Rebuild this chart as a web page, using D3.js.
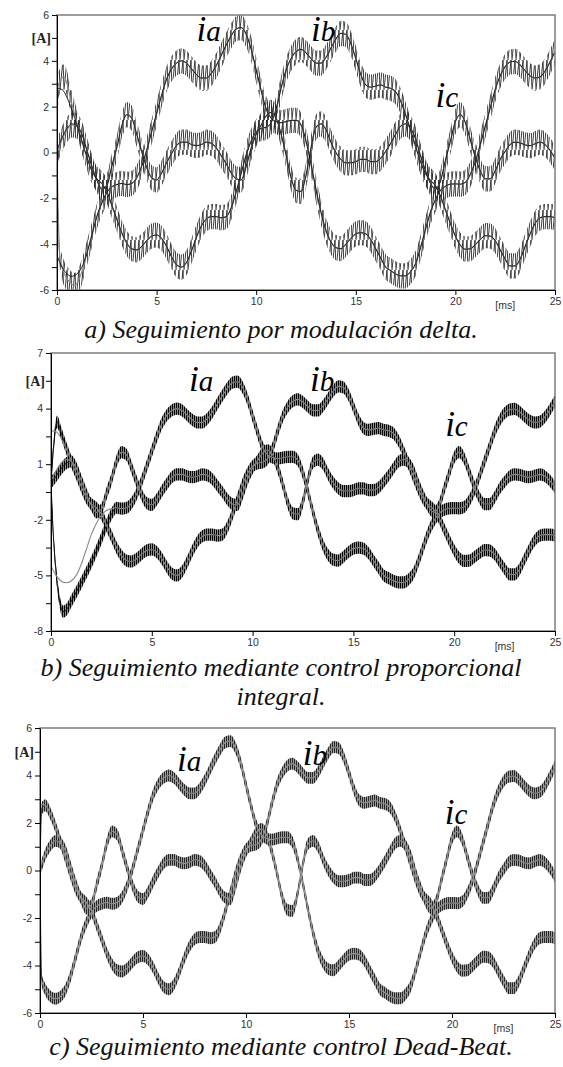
<!DOCTYPE html>
<html>
<head>
<meta charset="utf-8">
<script src="https://cdn.jsdelivr.net/npm/d3@7"></script>
<style>
  html, body { margin: 0; padding: 0; background: #fff; }
  svg { display: block; }
</style>
</head>
<body>
<svg id="chart" width="563" height="1067"></svg>
<script>
// ---- sampling grid (ms) ----
const T_STEP = 0.25;
const T_END = 25;
const timeMs = d3.range(0, T_END + T_STEP / 2, T_STEP);   // 0, 0.25 ... 25

// ---- reference phase currents [A], one value per sample instant ----
const refIa = [
  -4.5, -5.0, -5.3, -5.4, -5.3, -5.0, -4.4, -3.6, -2.8, -2.2, -1.75, -1.5, -1.4, -1.35, -1.4, -1.35,
  -1.1, -0.6, 0.1, 0.9, 1.7, 2.5, 3.2, 3.65, 3.9, 4.0, 3.9, 3.65, 3.4, 3.25, 3.25, 3.45,
  3.8, 4.25, 4.7, 5.1, 5.4, 5.45, 5.15, 4.5, 3.6, 2.7, 1.9, 1.5, 1.35, 1.3, 1.35, 1.4,
  1.4, 1.2, 0.5, -0.5, -1.6, -2.6, -3.4, -3.9, -4.15, -4.2, -4.0, -3.75, -3.55, -3.5, -3.55, -3.8,
  -4.2, -4.6, -5.0,
  -5.15, -5.3, -5.38, -5.38, -5.2, -4.85, -4.15, -3.35, -2.6, -2.05, -1.65, -1.47, -1.38, -1.37, -1.38, -1.3,
  -0.95, -0.4, 0.35, 1.15, 1.95, 2.75, 3.35, 3.75, 3.95, 3.98, 3.82, 3.57, 3.35, 3.25, 3.3, 3.55,
  3.95, 4.4
];
const refIb = [
  2.8, 2.75, 2.4, 1.85, 1.2, 0.5, -0.2, -0.8, -1.15, -1.35, -1.7, -2.3, -2.9, -3.5, -3.95, -4.2,
  -4.25, -4.1, -3.85, -3.65, -3.6, -3.75, -4.1, -4.55, -4.9, -5.0, -4.8, -4.3, -3.7, -3.2, -2.9, -2.8,
  -2.8, -2.85, -2.8, -2.4, -1.7, -0.9, -0.1, 0.5, 0.9, 1.05, 1.1, 1.3, 1.9, 2.8, 3.6, 4.1,
  4.4, 4.5, 4.35, 4.1, 3.9, 3.9, 4.15, 4.55, 4.95, 5.2, 5.15, 4.75, 4.1, 3.4, 2.95, 2.85,
  2.9, 2.95, 2.85,
  2.8, 2.65, 2.25, 1.65, 0.98, 0.27, -0.4, -0.92, -1.22, -1.45, -1.9, -2.5, -3.1, -3.65, -4.05, -4.22,
  -4.2, -4.02, -3.8, -3.63, -3.65, -3.85, -4.25, -4.65, -4.95, -4.95, -4.65, -4.1, -3.55, -3.1, -2.85, -2.8,
  -2.8, -2.85
];
const refIc = [
  0.1, 0.65, 1.05, 1.25, 1.15, 0.8, 0.1, -0.6, -1.2, -1.6, -1.45, -0.6, 0.2, 1.15, 1.65, 1.5,
  0.8, 0.05, -0.65, -1.1, -1.2, -0.9, -0.45, -0.05, 0.3, 0.45, 0.45, 0.35, 0.3, 0.35, 0.45, 0.4,
  0.2, -0.15, -0.5, -0.9, -1.15, -1.2, -0.6, 0.2, 0.8, 1.2, 1.6, 1.75, 1.5, 0.8, -0.1, -1.1,
  -1.65, -1.7, -1.0, 0.2, 1.1, 1.25, 1.0, 0.45, 0.0, -0.3, -0.45, -0.45, -0.4, -0.3, -0.3, -0.4,
  -0.4, -0.25, 0.05,
  0.4, 0.8, 1.15, 1.25, 1.05, 0.6, -0.15, -0.8, -1.35, -1.6, -1.25, -0.35, 0.5, 1.35, 1.65, 1.3,
  0.55, -0.2, -0.8, -1.15, -1.15, -0.8, -0.3, 0.05, 0.35, 0.45, 0.42, 0.33, 0.3, 0.38, 0.45, 0.35,
  0.1, -0.25
];

// ---- start-up of the measured currents, [ms, A] (afterwards they follow the reference) ----
const deltaStartIa = [[0, 0], [0.05, -2.3], [0.15, -4.6], [0.5, -5.5], [0.9, -5.8], [1.25, -5.2]];
const deltaStartIb = [[0, 0], [0.05, 2.9], [0.35, 3.3], [0.75, 2.1], [1.0, 1.3]];
const deltaStartIc = [[0, 0], [0.5, 1.0], [0.75, 1.2]];

const piStartIa = [[0, 0], [0.1, -2.5], [0.25, -4.8], [0.4, -6.2], [0.6, -6.95], [0.8, -6.8], [1.0, -6.4],
                   [1.5, -5.4], [2.0, -4.3], [2.5, -3.0], [2.75, -2.3], [3.0, -1.7]];
const piStartIb = [[0, 0], [0.15, 2.2], [0.3, 3.3], [0.5, 2.7], [0.75, 1.9], [1.0, 1.15]];
const piStartIc = [[0, 0], [0.25, 0.35], [0.5, 0.75], [0.75, 1.05], [1.0, 1.15]];

const dbStartIa = [[0, 0], [0.08, -4.6]];
const dbStartIb = [[0, 0], [0.08, 2.6]];
const dbStartIc = [[0, 0]];

// switching ripple half-amplitude of each method [A]
const rippleAmp = [0.55, 0.33, 0.25];

// ---- axis ticks ----
const xTicks = [0, 5, 10, 15, 20, 25];
const yTicksAC = [6, 5, 4, 3, 2, 1, 0, -1, -2, -3, -4, -5, -6];
const yLabelsAC = [6, 4, 2, 0, -2, -4, -6];
const yTicksB = [7, 5.5, 4, 2.5, 1, -0.5, -2, -3.5, -5, -6.5, -8];
const yLabelsB = [7, 4, 1, -2, -5, -8];

const phaseNames = ["a", "b", "c"];
const captions = [
  ["a) Seguimiento por modulación delta."],
  ["b) Seguimiento mediante control proporcional", "integral."],
  ["c) Seguimiento mediante control Dead-Beat."]
];

// ---- layout of the three panels ----
const panels = [
  { key: "a", left: 57, right: 555, top: 15, bottom: 290, yMin: -6, yMax: 6,
    yTicks: yTicksAC, yLabels: yLabelsAC, unitAt: 5, ripple: rippleAmp[0],
    start: [deltaStartIa, deltaStartIb, deltaStartIc],
    refColor: "#111", refWidth: 0.9, measColor: "#8a8a8a", measWidth: 1.2,
    labels: [[7.0, 4.85], [12.75, 4.85], [19.0, 2.0]],
    captionY: [338] },
  { key: "b", left: 51, right: 555, top: 353, bottom: 631, yMin: -8, yMax: 7,
    yTicks: yTicksB, yLabels: yLabelsB, unitAt: 5.5, ripple: rippleAmp[1],
    start: [piStartIa, piStartIb, piStartIc],
    refColor: "#8a8a8a", refWidth: 1.1, measColor: "#111", measWidth: 1,
    labels: [[6.85, 4.95], [12.85, 4.95], [19.55, 2.5]],
    captionY: [676, 705] },
  { key: "c", left: 40, right: 555, top: 728, bottom: 1013, yMin: -6, yMax: 6,
    yTicks: yTicksAC, yLabels: yLabelsAC, unitAt: 5, ripple: rippleAmp[2],
    start: [dbStartIa, dbStartIb, dbStartIc],
    refColor: "#999", refWidth: 1.1, measColor: "#2a2a2a", measWidth: 1,
    labels: [[6.65, 4.2], [12.75, 4.45], [19.65, 1.95]],
    captionY: [1055] }
];

const svg = d3.select("#chart");
const defs = svg.append("defs");

// vertical hair-line texture used for the switching ripple bands
function stripePattern(id, pitch, stripeColor, backColor) {
  const p = defs.append("pattern").attr("id", id)
    .attr("patternUnits", "userSpaceOnUse").attr("width", pitch).attr("height", 10);
  if (backColor) p.append("rect").attr("width", pitch).attr("height", 10).attr("fill", backColor);
  p.append("rect").attr("width", 1).attr("height", 10).attr("fill", stripeColor);
}
// saw-tooth texture for the hysteresis (delta) controller
function sawPattern(id, pitch, height, color) {
  const p = defs.append("pattern").attr("id", id)
    .attr("patternUnits", "userSpaceOnUse").attr("width", pitch).attr("height", height);
  p.append("path")
    .attr("d", `M0,${height} L${pitch * 0.75},0 L${pitch},${height}`)
    .attr("fill", "none").attr("stroke", color).attr("stroke-width", 0.9);
}
sawPattern("rip-a", 4, 30, "#262626");
stripePattern("rip-b", 2, "#000", "#8c8c8c");
stripePattern("rip-c", 2, "#262626", "#9c9c9c");

const refSeries = [refIa, refIb, refIc].map(vals => timeMs.map((t, i) => [t, vals[i]]));

const serif = "'Liberation Serif', 'Times New Roman', 'DejaVu Serif', serif";
const sans = "'Liberation Sans', Arial, sans-serif";

panels.forEach((P, k) => {
  const x = d3.scaleLinear().domain([0, T_END]).range([P.left, P.right]);
  const y = d3.scaleLinear().domain([P.yMin, P.yMax]).range([P.bottom, P.top]);
  const g = svg.append("g").attr("class", "panel-" + P.key);

  defs.append("clipPath").attr("id", "clip-" + P.key)
    .append("rect").attr("x", P.left).attr("y", P.top)
    .attr("width", P.right - P.left).attr("height", P.bottom - P.top);

  const plot = g.append("g").attr("clip-path", `url(#clip-${P.key})`);

  const line = d3.line().x(d => x(d[0])).y(d => y(d[1])).curve(d3.curveMonotoneX);
  const band = d3.area().x(d => x(d[0]))
    .y0(d => y(d[1] - P.ripple)).y1(d => y(d[1] + P.ripple))
    .curve(d3.curveMonotoneX);

  // measured currents: start-up transient, then tracking the reference
  const measured = P.start.map((s, j) => {
    const tEnd = s[s.length - 1][0];
    return s.concat(refSeries[j].filter(d => d[0] > tEnd));
  });

  measured.forEach(m => plot.append("path").attr("d", band(m))
    .attr("fill", `url(#rip-${P.key})`).attr("stroke", "none"));
  measured.forEach(m => plot.append("path").attr("d", line(m))
    .attr("fill", "none").attr("stroke", P.measColor).attr("stroke-width", P.measWidth));
  refSeries.forEach(r => plot.append("path").attr("d", line(r))
    .attr("fill", "none").attr("stroke", P.refColor).attr("stroke-width", P.refWidth));

  // frame
  g.append("rect").attr("x", P.left).attr("y", P.top)
    .attr("width", P.right - P.left).attr("height", P.bottom - P.top)
    .attr("fill", "none").attr("stroke", "#7d7d7d").attr("stroke-width", 1.5);

  // axes
  const yAxis = d3.axisLeft(y).tickValues(P.yTicks).tickSize(5).tickSizeOuter(0).tickPadding(3)
    .tickFormat(d => P.yLabels.includes(d) ? String(d) : "");
  const xAxis = d3.axisBottom(x).tickValues(xTicks).tickSize(5).tickSizeOuter(0).tickPadding(3)
    .tickFormat(d => String(d));

  const ya = g.append("g").attr("transform", `translate(${P.left},0)`).call(yAxis);
  const xa = g.append("g").attr("transform", `translate(0,${P.bottom})`).call(xAxis);
  [ya, xa].forEach(a => {
    a.select(".domain").attr("stroke", "#000").attr("stroke-width", 1);
    a.selectAll(".tick line").attr("stroke", "#000");
    a.selectAll(".tick text").attr("fill", "#333")
      .style("font-family", sans).style("font-size", "10.5px");
  });

  // unit labels
  g.append("text").attr("x", P.left - 6).attr("y", y(P.unitAt)).attr("dy", "0.35em")
    .attr("text-anchor", "end").attr("fill", "#222")
    .style("font-family", serif)
    .style("font-size", "14px").style("font-weight", "bold").text("[A]");
  g.append("text").attr("x", x(22.5)).attr("y", P.bottom + 19)
    .attr("text-anchor", "middle").attr("fill", "#333")
    .style("font-family", sans).style("font-size", "10.5px")
    .text("[ms]");

  // phase labels
  P.labels.forEach((pos, j) => {
    const t = g.append("text").attr("x", x(pos[0])).attr("y", y(pos[1]))
      .attr("fill", "#000")
      .style("font-family", serif)
      .style("font-style", "italic");
    t.append("tspan").style("font-size", "35px").text("i");
    t.append("tspan").style("font-size", "29px").text(phaseNames[j]);
  });

  // caption
  captions[k].forEach((c, n) => {
    svg.append("text").attr("x", 281).attr("y", P.captionY[n])
      .attr("text-anchor", "middle").attr("fill", "#111")
      .style("font-family", serif)
      .style("font-style", "italic").style("font-size", "26px")
      .text(c);
  });
});
</script>
</body>
</html>
